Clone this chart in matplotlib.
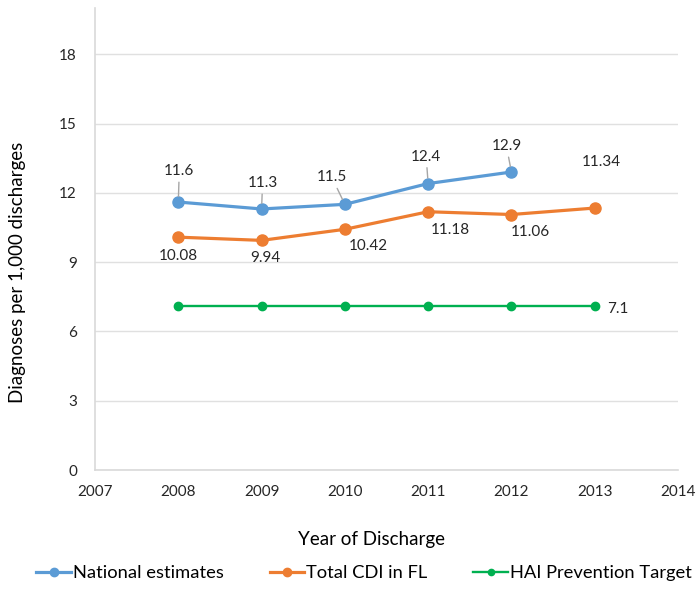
import matplotlib
matplotlib.use("Agg")
import matplotlib.pyplot as plt

plt.rcParams['font.family'] = ['Lato', 'DejaVu Sans']

years = [2008, 2009, 2010, 2011, 2012, 2013]
national = [11.6, 11.3, 11.5, 12.4, 12.9]
total_fl = [10.08, 9.94, 10.42, 11.18, 11.06, 11.34]
target = [7.1, 7.1, 7.1, 7.1, 7.1, 7.1]
yticks = [0, 3, 6, 9, 12, 15, 18]
xticks = list(range(2007, 2015))

c_blue = "#5B9BD5"
c_orange = "#ED7D31"
c_green = "#00B050"
txt = "#262626"

W, H = 696, 612
fig = plt.figure(figsize=(W / 100, H / 100), dpi=100)
ax = fig.add_axes([95 / W, 1 - 470 / H, 583 / W, 462 / H])

ax.plot(years[:len(national)], national, color=c_blue, lw=2.3, marker="o", ms=8,
        label="National estimates", zorder=3)
ax.plot(years, total_fl, color=c_orange, lw=2.3, marker="o", ms=8,
        label="Total CDI in FL", zorder=3)
ax.plot(years, target, color=c_green, lw=1.7, marker="o", ms=6,
        label="HAI Prevention Target", zorder=3)

ax.set_xlim(2007, 2014)
ax.set_ylim(0, 20)
ax.set_yticks(yticks)
ax.set_xticks(xticks)
ax.grid(axis="y", color="#e0e0e0", lw=1)
ax.set_axisbelow(True)
for s in ["top", "right"]:
    ax.spines[s].set_visible(False)
for s in ["left", "bottom"]:
    ax.spines[s].set_color("#d9d9d9")
    ax.spines[s].set_linewidth(1.2)
ax.tick_params(length=0, labelsize=11, colors=txt)
ax.tick_params(axis="y", pad=13)
ax.tick_params(axis="x", pad=11)

fig.text(18 / W, 1 - 272 / H, "Diagnoses per 1,000 discharges", rotation=90,
         ha="center", va="center", fontsize=13.5, color="#000000")
fig.text(372 / W, 1 - 540 / H, "Year of Discharge",
         ha="center", va="center", fontsize=13.5, color="#000000")

# national labels were moved up, Excel draws leader lines to them
nat_off = [(1, 31), (1, 26), (-13, 27), (-2, 27), (-5, 26)]
for x, y, off in zip(years, national, nat_off):
    ax.annotate(f"{y:g}", (x, y), xytext=off, textcoords="offset pixels",
                ha="center", va="center", fontsize=11, color=txt,
                arrowprops=dict(arrowstyle="-", color="#a6a6a6", lw=1,
                                shrinkA=1, shrinkB=4))

fl_off = [(0, -19), (4, -18), (23, -17), (22, -18), (19, -17), (7, 46)]
for x, y, off in zip(years, total_fl, fl_off):
    ax.annotate(f"{y:.2f}", (x, y), xytext=off, textcoords="offset pixels",
                ha="center", va="center", fontsize=11, color=txt)

ax.annotate(f"{target[-1]:g}", (years[-1], target[-1]), xytext=(12, -3),
            textcoords="offset pixels", ha="left", va="center",
            fontsize=11, color=txt)

fig.legend(loc="center", bbox_to_anchor=(364 / W, 1 - 573 / H), ncol=3, frameon=False,
           fontsize=13.2, handlelength=1.9, handletextpad=0.1, columnspacing=2.5,
           markerscale=0.75)

fig.savefig("out.png", dpi=100)
